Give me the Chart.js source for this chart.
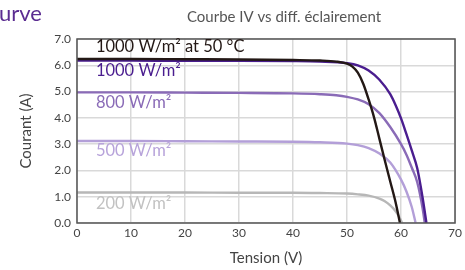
<!DOCTYPE html>
<html lang="fr">
<head>
    <meta charset="UTF-8">
    <title>Courbe IV vs diff. éclairement</title>
    <script src="https://cdn.jsdelivr.net/npm/chart.js"></script>
    <style>
        html, body { margin: 0; padding: 0; background: #fff; }
        #wrap { position: relative; width: 465px; height: 270px; }
    </style>
</head>
<body>
    <div id="wrap">
        <canvas id="ivChart" width="465" height="270"></canvas>
    </div>

    <script>
// series: voltage (V) and current (A)
const seriesNames = ['1000 W/m² at 50 °C', '1000 W/m²', '800 W/m²', '500 W/m²', '200 W/m²'];

const v1000hot = [0, 10, 20, 30, 40, 45, 48, 50, 51, 52, 53, 54, 55, 56, 57, 58, 59, 59.8];
const i1000hot = [6.24, 6.24, 6.23, 6.22, 6.2, 6.18, 6.14, 6.06, 5.95, 5.72, 5.3, 4.7, 4.02, 3.2, 2.38, 1.58, 0.78, 0];

const v1000 = [0, 10, 20, 30, 40, 45, 50, 52, 54, 56, 58, 59, 60, 61, 62, 63, 64, 64.7];
const i1000 = [6.18, 6.18, 6.17, 6.17, 6.16, 6.14, 6.08, 6.0, 5.8, 5.45, 4.9, 4.48, 3.98, 3.38, 2.75, 2.08, 0.95, 0];

const v800 = [0, 10, 20, 30, 40, 45, 48, 50, 52, 54, 56, 58, 60, 61, 62, 63, 64, 64.4];
const i800 = [4.97, 4.97, 4.96, 4.95, 4.93, 4.9, 4.86, 4.8, 4.7, 4.52, 4.18, 3.65, 3.0, 2.6, 2.1, 1.55, 0.55, 0];

const v500 = [0, 10, 20, 30, 40, 45, 50, 52, 54, 56, 58, 60, 61, 62, 62.7];
const i500 = [3.12, 3.12, 3.11, 3.1, 3.09, 3.07, 3.02, 2.96, 2.85, 2.64, 2.3, 1.65, 1.2, 0.6, 0];

const v200 = [0, 10, 20, 30, 40, 45, 50, 52, 54, 56, 57, 58, 59, 59.7, 60.2];
const i200 = [1.16, 1.16, 1.16, 1.15, 1.15, 1.14, 1.12, 1.09, 1.04, 0.93, 0.83, 0.67, 0.45, 0.22, 0];

const xTicks = [0, 10, 20, 30, 40, 50, 60, 70];
const yTicks = [0, 1, 2, 3, 4, 5, 6, 7];

const lineColors = ['#231815', '#4a1d8f', '#8a6bb7', '#b39fd8', '#b7b7b7'];
const textColors = ['#231815', '#4a1d8f', '#8a6bb7', '#b7a3da', '#c2c2c2'];
const labelShift = [-12, 10, 10, 10, 11];

const FONT = 'Lato, "Open Sans", sans-serif';

function toPoints(xs, ys) {
    return xs.map((x, k) => ({ x: x, y: ys[k] }));
}

const allV = [v1000hot, v1000, v800, v500, v200];
const allI = [i1000hot, i1000, i800, i500, i200];

const datasets = seriesNames.map((name, k) => ({
    label: name,
    data: toPoints(allV[k], allI[k]),
    borderColor: lineColors[k],
    borderWidth: 2.4,
    pointRadius: 0,
    cubicInterpolationMode: 'monotone',
    fill: false
}));

// frame, heading and the in-plot curve labels
const extras = {
    id: 'extras',
    afterDatasetsDraw(chart) {
        const ctx = chart.ctx;
        const area = chart.chartArea;
        const xs = chart.scales.x;
        const ys = chart.scales.y;
        ctx.save();
        ctx.strokeStyle = '#555';
        ctx.lineWidth = 1.5;
        ctx.strokeRect(area.left, area.top, area.right - area.left, area.bottom - area.top);

        ctx.font = '16.5px ' + FONT;
        ctx.textBaseline = 'middle';
        ctx.textAlign = 'left';
        seriesNames.forEach((name, k) => {
            ctx.fillStyle = textColors[k];
            const px = xs.getPixelForValue(3.5);
            const py = ys.getPixelForValue(allI[k][0]) + labelShift[k];
            ctx.fillText(name, px, py);
        });

        ctx.fillStyle = '#555';
        ctx.font = '15px ' + FONT;
        ctx.textAlign = 'center';
        ctx.fillText('Courbe IV vs diff. éclairement', 284, 17);

        ctx.fillStyle = '#5b2c91';
        ctx.font = '22px ' + FONT;
        ctx.textAlign = 'left';
        ctx.fillText('urve', -1, 14);
        ctx.restore();
    }
};

new Chart(document.getElementById('ivChart'), {
    type: 'line',
    data: { datasets: datasets },
    options: {
        responsive: false,
        animation: false,
        layout: { padding: { top: 39, right: 9, left: 0, bottom: 0 } },
        plugins: {
            legend: { display: false },
            tooltip: { enabled: false }
        },
        scales: {
            x: {
                type: 'linear',
                min: 0,
                max: 70,
                afterBuildTicks: s => { s.ticks = xTicks.map(v => ({ value: v })); },
                afterFit: s => { s.height = 47; },
                grid: { color: '#d9d9d9', lineWidth: 1.5, drawTicks: false },
                border: { display: false },
                ticks: { color: '#444', font: { family: FONT, size: 12 }, padding: 3 },
                title: {
                    display: true,
                    text: 'Tension (V)',
                    color: '#444',
                    font: { family: FONT, size: 15 },
                    padding: { top: 0, bottom: 3 }
                }
            },
            y: {
                min: 0,
                max: 7,
                afterBuildTicks: s => { s.ticks = yTicks.map(v => ({ value: v })); },
                afterFit: s => { s.width = 77; },
                grid: { color: '#d9d9d9', lineWidth: 1.5, drawTicks: false },
                border: { display: false },
                ticks: {
                    color: '#444',
                    font: { family: FONT, size: 12 },
                    padding: 6,
                    callback: v => v.toFixed(1)
                },
                title: {
                    display: true,
                    text: 'Courant (A)',
                    color: '#444',
                    font: { family: FONT, size: 15 },
                    padding: { top: 17, bottom: 0 }
                }
            }
        }
    },
    plugins: [extras]
});
    </script>
</body>
</html>
